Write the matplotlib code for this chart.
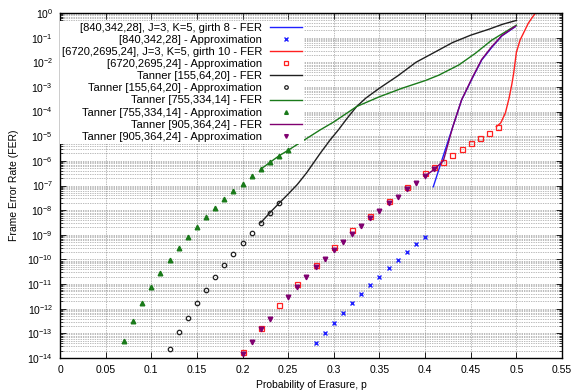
import numpy as np
import matplotlib
matplotlib.use("Agg")
import matplotlib.pyplot as plt
from matplotlib.ticker import LogLocator, FuncFormatter, MultipleLocator, NullFormatter

plt.rcParams["font.family"] = ["Liberation Sans", "DejaVu Sans"]

# ── Data ──────────────────────────────────────────────────────────────────
# [840,342,28], J=3, K=5, girth 8
p_840_fer = [0.409, 0.419, 0.430, 0.440, 0.451, 0.462, 0.473, 0.484, 0.499]
fer_840 = [8.9e-8, 1.26e-6, 2.2e-5, 2.95e-4, 2.0e-3, 1.23e-2, 4.0e-2, 1.17e-1, 2.8e-1]
p_840_apx = [0.28, 0.29, 0.30, 0.31, 0.32, 0.33, 0.34, 0.35, 0.36, 0.37, 0.38, 0.39, 0.40]
apx_840 = [3.9e-14, 1.0e-13, 2.7e-13, 6.6e-13, 1.66e-12, 3.8e-12, 8.9e-12,
           2.0e-11, 4.5e-11, 9.5e-11, 2.0e-10, 4.1e-10, 8.3e-10]

# [6720,2695,24], J=3, K=5, girth 10
p_6720_fer = [0.478, 0.483, 0.488, 0.492, 0.495, 0.497, 0.500, 0.504, 0.508,
              0.513, 0.517, 0.521, 0.524]
fer_6720 = [2.45e-5, 3.5e-5, 8.9e-5, 3.5e-4, 1.26e-3, 3.5e-3, 2.5e-2, 7.9e-2,
            1.58e-1, 3.8e-1, 6.3e-1, 1.0, 1.2]
p_6720_apx = [0.20, 0.22, 0.24, 0.26, 0.28, 0.30, 0.32, 0.34, 0.36, 0.38, 0.40,
              0.41, 0.42, 0.43, 0.44, 0.45, 0.46, 0.47, 0.48]
apx_6720 = [1.8e-14, 1.7e-13, 1.45e-12, 1.0e-11, 5.9e-11, 3.1e-10, 1.5e-9,
            5.9e-9, 2.4e-8, 8.9e-8, 3.1e-7, 5.5e-7, 9.3e-7, 1.7e-6, 2.9e-6,
            5.1e-6, 8.7e-6, 1.4e-5, 2.4e-5]

# Tanner [155,64,20]
p_155_fer = [0.22, 0.23, 0.24, 0.25, 0.26, 0.27, 0.285, 0.296, 0.305, 0.315,
             0.325, 0.335, 0.35, 0.37, 0.39, 0.41, 0.43, 0.45, 0.47, 0.485, 0.50]
fer_155 = [3.1e-9, 7.9e-9, 1.9e-8, 4.5e-8, 1.1e-7, 3.2e-7, 2.0e-6, 7.1e-6,
           1.8e-5, 5.6e-5, 1.6e-4, 3.5e-4, 8.9e-4, 2.8e-3, 1.0e-2, 2.5e-2,
           6.3e-2, 1.26e-1, 2.2e-1, 3.5e-1, 5.0e-1]
p_155_apx = [0.12, 0.13, 0.14, 0.15, 0.16, 0.17, 0.18, 0.19, 0.20, 0.21, 0.22,
             0.23, 0.24]
apx_155 = [2.3e-14, 1.1e-13, 4.3e-13, 1.7e-12, 5.6e-12, 1.9e-11, 5.8e-11,
           1.7e-10, 4.5e-10, 1.2e-9, 3.1e-9, 7.9e-9, 1.9e-8]

# Tanner [755,334,14]
p_755_fer = [0.22, 0.23, 0.24, 0.25, 0.285, 0.30, 0.325, 0.35, 0.375, 0.40,
             0.415, 0.437, 0.455, 0.473, 0.50]
fer_755 = [4.6e-7, 8.7e-7, 1.6e-6, 2.7e-6, 1.8e-5, 3.8e-5, 1.6e-4, 4.0e-4,
           8.9e-4, 1.8e-3, 3.0e-3, 7.8e-3, 2.3e-2, 7.9e-2, 3.2e-1]
p_755_apx = [0.07, 0.08, 0.09, 0.10, 0.11, 0.12, 0.13, 0.14, 0.15, 0.16, 0.17,
             0.18, 0.19, 0.20, 0.21, 0.22, 0.23, 0.24, 0.25]
apx_755 = [5.0e-14, 3.2e-13, 1.7e-12, 7.4e-12, 2.8e-11, 9.5e-11, 2.9e-10,
           8.1e-10, 2.1e-9, 5.2e-9, 1.2e-8, 2.8e-8, 6.0e-8, 1.2e-7, 2.5e-7,
           4.5e-7, 8.7e-7, 1.6e-6, 2.7e-6]

# Tanner [905,364,24]
p_905_fer = [0.40, 0.41, 0.42, 0.43, 0.44, 0.451, 0.462, 0.473, 0.484, 0.499]
fer_905 = [2.4e-7, 4.5e-7, 1.0e-6, 2.2e-5, 3.0e-4, 2.1e-3, 1.3e-2, 4.3e-2,
           1.2e-1, 2.9e-1]
p_905_apx = [0.20, 0.21, 0.22, 0.23, 0.25, 0.26, 0.27, 0.28, 0.29, 0.30, 0.31,
             0.32, 0.33, 0.34, 0.35, 0.36, 0.37, 0.38, 0.39, 0.40, 0.41]
apx_905 = [1.4e-14, 4.6e-14, 1.45e-13, 3.9e-13, 3.1e-12, 7.8e-12, 1.9e-11,
           4.8e-11, 1.07e-10, 2.4e-10, 5.2e-10, 1.07e-9, 2.3e-9, 4.7e-9,
           9.2e-9, 1.9e-8, 3.5e-8, 6.9e-8, 1.3e-7, 2.4e-7, 4.5e-7]

# ── Styles ────────────────────────────────────────────────────────────────
BLUE = "#2020ff"
RED = "#ff2020"
BLACK = "#202020"
GREEN = "#1a7a1a"
PURPLE = "#800070"
FS = 7.5
LEG_FS = 8.0

fig = plt.figure(figsize=(5.75, 3.92), dpi=100)
ax = fig.add_axes([60 / 575, 1 - 358 / 392, 502 / 575, 345 / 392])

ax.plot(p_840_fer, fer_840, color=BLUE, lw=1.0,
        label="[840,342,28], J=3, K=5, girth 8 - FER")
ax.plot(p_840_apx, apx_840, "x", color=BLUE, ms=3.0, mew=1.0, ls="none",
        label="[840,342,28] - Approximation")
ax.plot(p_6720_fer, fer_6720, color=RED, lw=1.0,
        label="[6720,2695,24], J=3, K=5, girth 10 - FER")
ax.plot(p_6720_apx, apx_6720, "s", color=RED, mfc="none", ms=3.6, mew=0.9,
        ls="none", label="[6720,2695,24] - Approximation")
ax.plot(p_155_fer, fer_155, color=BLACK, lw=1.0,
        label="Tanner [155,64,20] - FER")
ax.plot(p_155_apx, apx_155, "o", color=BLACK, mfc="none", ms=3.2, mew=0.9,
        ls="none", label="Tanner [155,64,20] - Approximation")
ax.plot(p_755_fer, fer_755, color=GREEN, lw=1.0,
        label="Tanner [755,334,14] - FER")
ax.plot(p_755_apx, apx_755, "^", color=GREEN, ms=3.3, ls="none",
        label="Tanner [755,334,14] - Approximation")
ax.plot(p_905_fer, fer_905, color=PURPLE, lw=1.0,
        label="Tanner [905,364,24] - FER")
ax.plot(p_905_apx, apx_905, "v", color=PURPLE, ms=3.3, ls="none",
        label="Tanner [905,364,24] - Approximation")

ax.set_yscale("log")
ax.set_xlim(0, 0.55)
ax.set_ylim(1e-14, 1)

ax.xaxis.set_major_locator(MultipleLocator(0.05))
ax.xaxis.set_major_formatter(FuncFormatter(lambda v, _: f"{v:g}"))
ax.yaxis.set_major_locator(LogLocator(base=10, numticks=30))
ax.yaxis.set_minor_locator(LogLocator(base=10, subs=np.arange(2, 10), numticks=30))
ax.yaxis.set_minor_formatter(NullFormatter())

ax.tick_params(which="both", direction="in", top=True, right=True,
               labelsize=FS, colors="black", pad=5)
ax.tick_params(which="major", length=4, width=0.6)
ax.tick_params(which="minor", length=2, width=0.5)

grid_kw = dict(color="#777777", linestyle=(0, (1, 1.5)), linewidth=0.5)
ax.grid(which="both", axis="y", **grid_kw)
ax.grid(which="major", axis="x", **grid_kw)
ax.set_axisbelow(True)
for spine in ax.spines.values():
    spine.set_linewidth(1.0)

ax.set_xlabel("Probability of Erasure, p", fontsize=FS, labelpad=4)
ax.set_ylabel("Frame Error Rate (FER)", fontsize=FS, labelpad=6)

leg = ax.legend(loc="upper right", bbox_to_anchor=(310 / 575, 1 - 15 / 392),
                bbox_transform=fig.transFigure, markerfirst=False,
                fontsize=LEG_FS, handlelength=2.9, handletextpad=0.7,
                labelspacing=0.19, borderpad=0.2, frameon=True,
                fancybox=False, framealpha=1.0, markerscale=0.8)
leg.get_frame().set_edgecolor("none")
leg.get_frame().set_facecolor("white")

fig.savefig("out.png", dpi=100)
